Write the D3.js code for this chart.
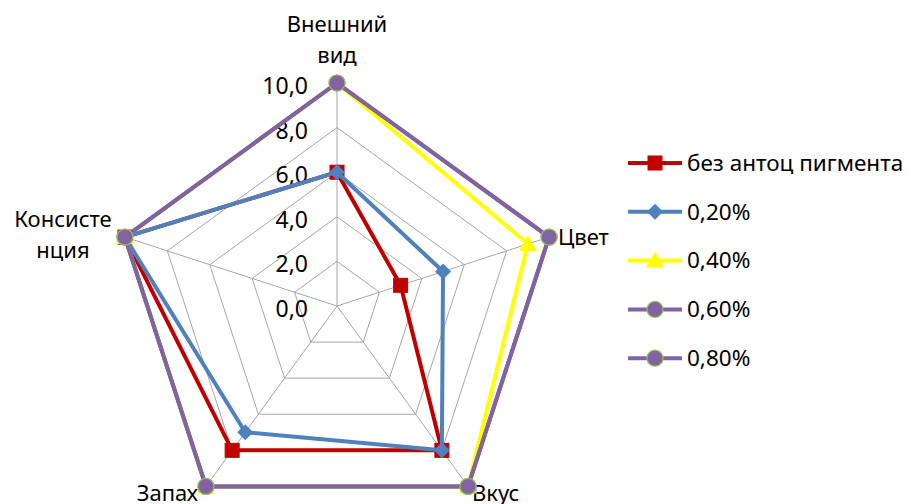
<!DOCTYPE html>
<html><head><meta charset="utf-8">
<script src="https://cdn.jsdelivr.net/npm/d3@7"></script>
<style>body{margin:0;background:#fff;} svg{display:block;}</style>
</head><body>
<svg id="chart" width="909" height="504"></svg>
<script>
const axes = ["Внешний вид", "Цвет", "Вкус", "Запах", "Консистенция"];
const axisLabelLines = [["Внешний","вид"],["Цвет"],["Вкус"],["Запах"],["Консисте","нция"]];
const seriesNames = ["без антоц пигмента", "0,20%", "0,40%", "0,60%", "0,80%"];
const s0 = [6, 3, 8, 8, 10];
const s1 = [6, 5, 8, 7, 10];
const s2 = [10, 9, 10, 10, 10];
const s3 = [10, 10, 10, 10, 10];
const s4 = [10, 10, 10, 10, 10];
const tickValues = [0, 2, 4, 6, 8, 10];
const tickLabels = ["0,0", "2,0", "4,0", "6,0", "8,0", "10,0"];

const colors = ["#C00000", "#4F81BD", "#FFFF00", "#8064A2", "#8064A2"];
const markers = ["square", "diamond", "triangle", "circle", "circle"];
const data = [s0, s1, s2, s3, s4];

const font = "'Noto Sans', sans-serif";
const svg = d3.select("#chart");
const cx = 337, cy = 306, R = 223;
const r = d3.scaleLinear().domain([0, 10]).range([0, R]);
const ang = d3.scaleLinear().domain([0, axes.length]).range([0, 2 * Math.PI]);
const pt = (i, v) => [cx + r(v) * Math.sin(ang(i)), cy - r(v) * Math.cos(ang(i))];

const g = svg.append("g");
// grid pentagons
tickValues.filter(t => t > 0).forEach(t => {
  g.append("path")
    .attr("d", d3.line()(axes.map((a, i) => pt(i, t))) + "Z")
    .attr("fill", "none").attr("stroke", "#A6A6A6").attr("stroke-width", 1);
});
// spokes
axes.forEach((a, i) => {
  const [x, y] = pt(i, 10);
  g.append("line").attr("x1", cx).attr("y1", cy).attr("x2", x).attr("y2", y)
    .attr("stroke", "#A6A6A6").attr("stroke-width", 1);
});
// tick labels
tickValues.forEach((t, k) => {
  g.append("text").attr("x", cx - 29).attr("y", cy - r(t) + 3).attr("dy", "0.35em")
    .attr("text-anchor", "end").attr("font-family", font).attr("font-size", 23)
    .attr("fill", "#000").text(tickLabels[k]);
});
// axis labels
const labelPos = [
  {x: cx, y: 32, anchor: "middle"},
  {x: 558, y: 245, anchor: "start"},
  {x: 472, y: 501, anchor: "start"},
  {x: 198, y: 501, anchor: "end"},
  {x: 63, y: 227, anchor: "middle"}
];
axisLabelLines.forEach((lines, i) => {
  const t = g.append("text").attr("font-family", font).attr("font-size", 22)
    .attr("text-anchor", labelPos[i].anchor).attr("fill", "#000");
  lines.forEach((l, j) => t.append("tspan").attr("x", labelPos[i].x)
    .attr("y", labelPos[i].y + j * 31).text(l));
});

function drawMarker(sel, type, color, x, y) {
  if (type === "square") {
    sel.append("rect").attr("x", x - 7).attr("y", y - 7).attr("width", 14).attr("height", 14)
      .attr("fill", color).attr("stroke", "#C00000");
  } else if (type === "diamond") {
    sel.append("path").attr("d", `M${x},${y-8}L${x+8},${y}L${x},${y+8}L${x-8},${y}Z`).attr("fill", color);
  } else if (type === "triangle") {
    sel.append("path").attr("d", `M${x},${y-9}L${x+9},${y+7}L${x-9},${y+7}Z`).attr("fill", color);
  } else {
    sel.append("circle").attr("cx", x).attr("cy", y).attr("r", 8)
      .attr("fill", color).attr("stroke", "#9BBB59").attr("stroke-width", 1.2);
  }
}

data.forEach((vals, si) => {
  const pts = vals.map((v, i) => pt(i, v));
  g.append("path").attr("d", d3.line()(pts) + "Z").attr("fill", "none")
    .attr("stroke", colors[si]).attr("stroke-width", 4).attr("stroke-linejoin", "round");
  pts.forEach(p => drawMarker(g, markers[si], colors[si], p[0], p[1]));
});

// legend
const leg = svg.append("g");
seriesNames.forEach((n, i) => {
  const y = 163 + i * 48.8;
  leg.append("line").attr("x1", 628).attr("x2", 682).attr("y1", y).attr("y2", y)
    .attr("stroke", colors[i]).attr("stroke-width", 4);
  drawMarker(leg, markers[i], colors[i], 655, y);
  leg.append("text").attr("x", 687).attr("y", y).attr("dy", "0.35em")
    .attr("font-family", font).attr("font-size", 22.5).attr("fill", "#000").text(n);
});
</script>
</body></html>
